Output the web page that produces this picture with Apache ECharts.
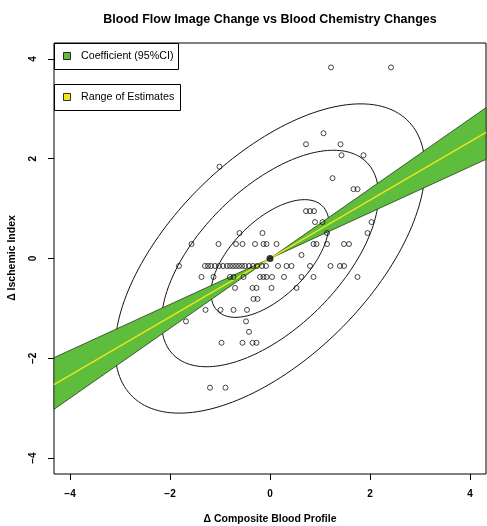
<!DOCTYPE html>
<html><head><meta charset="utf-8">
<script src="https://cdn.jsdelivr.net/npm/echarts@6/dist/echarts.min.js"></script>
<style>html,body{margin:0;padding:0;background:#fff}#c{width:487px;height:526px}</style>
</head><body><div id="c"></div>
<script>
// ---- data ----
const xTickValues = [-4, -2, 0, 2, 4];
const yTickValues = [-4, -2, 0, 2, 4];
const axisRange = [-4.32, 4.32];

const pointX = [
  1.22, 2.42,
  1.07,
  0.72, 1.41,
  1.43, 1.87,
  -1.01,
  1.25,
  1.67, 1.75,
  0.72, 0.80, 0.88,
  0.90, 1.05, 2.03,
  -0.61, -0.15, 1.14, 1.95,
  -1.57, -1.03, -0.68, -0.55, -0.30, -0.13, -0.07, 0.13, 0.87, 0.93, 1.14, 1.48, 1.58,
  0.63,
  -1.82, -1.30, -1.24, -1.18, -1.10, -1.02, -0.94, -0.86, -0.80, -0.74, -0.68, -0.62, -0.56, -0.50, -0.42, -0.34, -0.26, -0.16, -0.08, 0.16, 0.33, 0.43, 0.80, 1.21, 1.40, 1.48,
  -1.37, -1.13, -0.80, -0.73, -0.53, -0.20, -0.13, -0.07, 0.04, 0.28, 0.63, 0.87, 1.75,
  -0.70, -0.35, -0.27, 0.03, 0.53,
  -0.33, -0.25,
  -1.29, -0.99, -0.73, -0.46,
  -1.68, -0.48,
  -0.42,
  -0.97, -0.55, -0.35, -0.27,
  -1.20, -0.89
];
const pointY = [
  3.83, 3.83,
  2.51,
  2.29, 2.29,
  2.07, 2.07,
  1.84,
  1.61,
  1.39, 1.39,
  0.95, 0.95, 0.95,
  0.73, 0.73, 0.73,
  0.51, 0.51, 0.51, 0.51,
  0.29, 0.29, 0.29, 0.29, 0.29, 0.29, 0.29, 0.29, 0.29, 0.29, 0.29, 0.29, 0.29,
  0.07,
  -0.15, -0.15, -0.15, -0.15, -0.15, -0.15, -0.15, -0.15, -0.15, -0.15, -0.15, -0.15, -0.15, -0.15, -0.15, -0.15, -0.15, -0.15, -0.15, -0.15, -0.15, -0.15, -0.15, -0.15, -0.15, -0.15,
  -0.37, -0.37, -0.37, -0.37, -0.37, -0.37, -0.37, -0.37, -0.37, -0.37, -0.37, -0.37, -0.37,
  -0.59, -0.59, -0.59, -0.59, -0.59,
  -0.81, -0.81,
  -1.03, -1.03, -1.03, -1.03,
  -1.26, -1.26,
  -1.47,
  -1.69, -1.69, -1.69, -1.69,
  -2.59, -2.59
];

const meanPoint = [0, 0];
const ellipseRadii = [1.18, 2.17, 3.10];
const ellipseSd = [1.0, 1.0];
const ellipseRho = 0.585;

const slopeFit = 0.585;
const slopeLow = 0.46;
const slopeHigh = 0.70;

const titleText = 'Blood Flow Image Change vs Blood Chemistry Changes';
const xTitle = '\u0394 Composite Blood Profile';
const yTitle = '\u0394 Ischemic Index';
const legendNames = ['Coefficient (95%CI)', 'Range of Estimates'];

// ---- derived geometry ----
function ellipsePath(r) {
  const out = [];
  const s = Math.sqrt(1 - ellipseRho * ellipseRho);
  for (let d = 0; d <= 360; d += 2) {
    const t = d * Math.PI / 180;
    out.push([
      meanPoint[0] + r * ellipseSd[0] * Math.cos(t),
      meanPoint[1] + r * ellipseSd[1] * (ellipseRho * Math.cos(t) + s * Math.sin(t))
    ]);
  }
  return out;
}
const points = pointX.map((x, i) => [x, pointY[i]]);
const bandSegments = [[axisRange[0], meanPoint[0]], [meanPoint[0], axisRange[1]]];
const lineAt = (slope, x) => meanPoint[1] + slope * (x - meanPoint[0]);
const fitLine = [[axisRange[0], lineAt(slopeFit, axisRange[0])], [axisRange[1], lineAt(slopeFit, axisRange[1])]];

const FONT = '"Liberation Sans", Arial, Helvetica, sans-serif';
const GREEN = '#5fbd3e';
const YELLOW = '#f0e41a';
const minusFmt = v => (v < 0 ? '\u2212' + Math.abs(v) : String(v));

const chart = echarts.init(document.getElementById('c'), null, { renderer: 'canvas' });

const series = ellipseRadii.map((r, i) => ({
  type: 'line', name: 'ellipse' + i, data: ellipsePath(r), symbol: 'none', silent: true,
  lineStyle: { color: '#111', width: 1 }, z: 2, animation: false
}));
series.push({
  type: 'custom', name: legendNames[0], data: bandSegments, z: 3, silent: true, animation: false,
  renderItem: function (params, api) {
    const x0 = api.value(0), x1 = api.value(1);
    const pts = [
      [x0, lineAt(slopeLow, x0)], [x1, lineAt(slopeLow, x1)],
      [x1, lineAt(slopeHigh, x1)], [x0, lineAt(slopeHigh, x0)]
    ].map(p => api.coord(p));
    return { type: 'polygon', shape: { points: pts }, style: { fill: GREEN, stroke: '#1e3a14', lineWidth: 0.8 } };
  }
});
series.push({
  type: 'line', name: legendNames[1], data: fitLine, symbol: 'none', silent: true, z: 4, animation: false,
  lineStyle: { color: YELLOW, width: 1.3 }
});
series.push({
  type: 'scatter', name: 'obs', data: points, symbol: 'circle', symbolSize: 5, silent: true, z: 5, animation: false,
  itemStyle: { color: 'rgba(255,255,255,0)', borderColor: '#000', borderWidth: 0.9 }
});
series.push({
  type: 'scatter', name: 'mean', data: [meanPoint], symbol: 'circle', symbolSize: 7, silent: true, z: 6, animation: false,
  itemStyle: { color: '#000' }
});

const option = {
  animation: false,
  backgroundColor: '#fff',
  title: {
    text: titleText, left: 265, top: 8, textAlign: 'center',
    textStyle: { fontFamily: FONT, fontSize: 12.5, fontWeight: 'bold', color: '#000' }
  },
  grid: { left: 54, top: 43, right: 1, bottom: 52, show: true, borderColor: '#000', borderWidth: 1, containLabel: false },
  xAxis: {
    type: 'value', min: axisRange[0], max: axisRange[1],
    splitLine: { show: false }, axisLine: { show: false, onZero: false },
    axisTick: { show: true, length: 6, customValues: xTickValues, lineStyle: { color: '#000' } },
    axisLabel: { customValues: xTickValues, formatter: minusFmt, margin: 15, fontFamily: FONT, fontSize: 10, fontWeight: 'bold', color: '#000' }
  },
  yAxis: {
    type: 'value', min: axisRange[0], max: axisRange[1],
    splitLine: { show: false }, axisLine: { show: false, onZero: false },
    axisTick: { show: true, length: 6, customValues: yTickValues, lineStyle: { color: '#000' } },
    axisLabel: { customValues: yTickValues, formatter: minusFmt, rotate: 90, margin: 16, fontFamily: FONT, fontSize: 10, fontWeight: 'bold', color: '#000' }
  },
  graphic: [
    { type: 'text', x: 270, y: 519, z: 100, style: { text: xTitle, align: 'center', verticalAlign: 'middle', font: 'bold 10.5px ' + FONT, fill: '#000' } },
    { type: 'text', x: 12, y: 258, rotation: Math.PI / 2, z: 100, style: { text: yTitle, align: 'center', verticalAlign: 'middle', font: 'bold 10.5px ' + FONT, fill: '#000' } },
    { type: 'rect', z: 100, shape: { x: 54.5, y: 43.5, width: 124, height: 26 }, style: { fill: '#fff', stroke: '#000', lineWidth: 1 } },
    { type: 'rect', z: 101, shape: { x: 63.5, y: 52.5, width: 7, height: 7 }, style: { fill: GREEN, stroke: '#000', lineWidth: 0.8 } },
    { type: 'text', z: 101, x: 81, y: 56.5, style: { text: legendNames[0], align: 'left', verticalAlign: 'middle', font: '10.7px ' + FONT, fill: '#000' } },
    { type: 'rect', z: 100, shape: { x: 54.5, y: 84.5, width: 126, height: 26 }, style: { fill: '#fff', stroke: '#000', lineWidth: 1 } },
    { type: 'rect', z: 101, shape: { x: 63.5, y: 93.5, width: 7, height: 7 }, style: { fill: YELLOW, stroke: '#000', lineWidth: 0.8 } },
    { type: 'text', z: 101, x: 81, y: 97.5, style: { text: legendNames[1], align: 'left', verticalAlign: 'middle', font: '10.7px ' + FONT, fill: '#000' } }
  ],
  series: series
};
chart.setOption(option);
</script>
</body></html>
